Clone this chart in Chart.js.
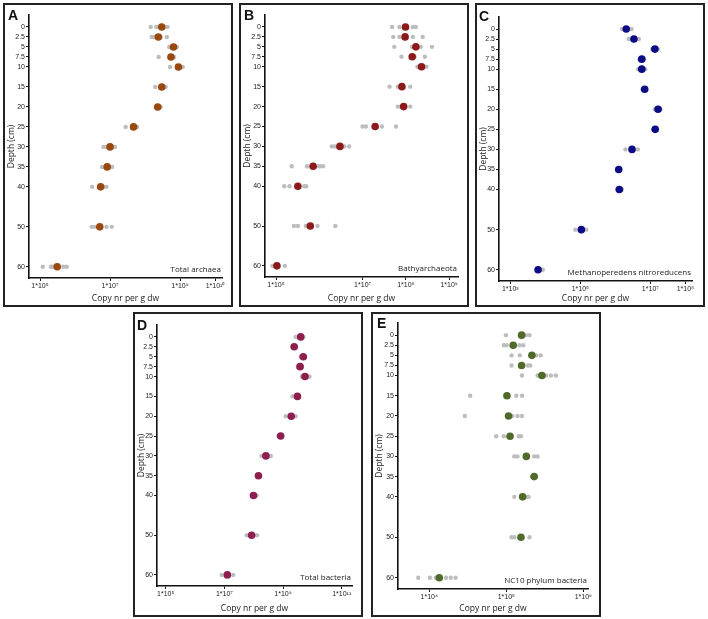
<!DOCTYPE html>
<html>
<head>
<meta charset="utf-8">
<script src="https://cdn.jsdelivr.net/npm/chart.js@4.4.0/dist/chart.umd.min.js"></script>
<style>
  html, body { margin: 0; padding: 0; background: #fff; }
  #page { position: relative; width: 708px; height: 619px; overflow: hidden; }
  .panel { position: absolute; border: 2px solid #222; box-sizing: border-box; background: #fff; }
  .panel canvas { position: absolute; left: 0; top: 0; }
  .tag { position: absolute; font: bold 14px Arial, "Liberation Sans", sans-serif; line-height: 1; color: #111; }
</style>
</head>
<body>
<div id="page"></div>
<script>
// ── DATA ─────────────────────────────────────────────────────────────────────
// profundidades (cm) — também usadas como rótulos do eixo y
const DEPTHS = [0, 2.5, 5, 7.5, 10, 15, 20, 25, 30, 35, 40, 50, 60]

// A — Total archaea
const archaeaMean = [3.0e8, 2.4e8, 6.5e8, 5.5e8, 9.0e8, 3.0e8, 2.3e8, 4.7e7, 1.0e7, 8.3e6, 5.4e6, 5.1e6, 3.1e5]
const archaeaReps = [
  [1.45e8, 2.1e8, 3.5e8, 4.4e8],
  [1.55e8, 1.8e8, 2.8e8, 4.2e8],
  [4.9e8, 5.6e8, 8.1e8],
  [2.45e8, 6.8e8],
  [5.2e8, 1.05e9, 1.2e9],
  [1.95e8, 3.3e8, 3.9e8],
  [2.1e8, 2.8e8],
  [2.8e7, 5.2e7, 6.0e7],
  [6.5e6, 7.9e6, 1.2e7, 1.38e7],
  [5.9e6, 7.1e6, 1.15e7],
  [3.1e6, 6.6e6, 7.9e6],
  [3.0e6, 3.6e6, 7.9e6, 1.12e7],
  [1.2e5, 2.05e5, 2.3e5, 4.6e5, 5.8e5]
]
const xTicksA = [1e5, 1e7, 1e9, 1e10]

// B — Bathyarchaeota
const bathyMean = [9.8e7, 9.6e7, 1.7e8, 1.4e8, 2.3e8, 8.1e7, 8.9e7, 1.95e7, 3.0e6, 7.2e5, 3.2e5, 6.2e5, 1.05e5]
const bathyReps = [
  [4.8e7, 7.1e7, 1.45e8, 1.7e8],
  [5.1e7, 7.1e7, 1.45e8, 2.45e8],
  [5.4e7, 1.38e8, 2.2e8, 4.0e8],
  [7.9e7, 1.6e8, 2.75e8],
  [1.85e8, 3.0e8],
  [4.2e7, 6.5e7, 1.26e8],
  [6.5e7, 7.6e7, 1.26e8],
  [1.0e7, 1.2e7, 2.8e7, 5.9e7],
  [1.95e6, 2.3e6, 3.8e6, 4.9e6],
  [2.3e5, 5.2e5, 9.5e5, 1.05e6, 1.23e6],
  [1.55e5, 2.05e5, 4.5e5, 5.0e5],
  [2.6e5, 3.2e5, 4.9e5, 9.1e5, 2.35e6],
  [8.3e4, 1.6e5]
]
const xTicksB = [1e5, 1e7, 1e8, 1e9]

// C — Methanoperedens nitroreducens
const methMean = [2.05e6, 3.4e6, 1.35e7, 5.7e6, 5.7e6, 6.9e6, 1.66e7, 1.38e7, 3.0e6, 1.25e6, 1.3e6, 1.07e5, 6.2e3]
const methReps = [
  [1.55e6, 2.9e6],
  [2.4e6, 4.7e6],
  [1.12e7, 1.66e7],
  [4.9e6, 6.6e6],
  [4.5e6, 7.2e6],
  [6.0e6],
  [1.35e7, 1.95e7],
  [1.2e7],
  [1.95e6, 4.4e6],
  [1.12e6],
  [1.15e6, 1.55e6],
  [7.2e4, 1.48e5],
  [8.5e3]
]
const xTicksC = [1e3, 1e5, 1e7, 1e8]

// D — Total bacteria
const bactMean = [4.0e9, 2.4e9, 4.9e9, 3.8e9, 5.6e9, 3.1e9, 1.9e9, 8.3e8, 2.6e8, 1.45e8, 9.8e7, 8.5e7, 1.26e7]
const bactReps = [
  [2.7e9, 4.9e9],
  [2.1e9],
  [4.0e9, 5.6e9],
  [3.2e9, 4.4e9],
  [4.4e9, 7.9e9],
  [2.1e9],
  [1.23e9, 2.7e9],
  [6.9e8],
  [1.85e8, 3.8e8],
  [1.38e8],
  [1.26e8],
  [5.8e7, 1.3e8],
  [8.1e6, 2.0e7]
]
const xTicksD = [1e5, 1e7, 1e9, 1e11]

// E — NC10 phylum bacteria
const nc10Mean = [1.58e5, 1.23e5, 2.15e5, 1.58e5, 2.9e5, 1.02e5, 1.07e5, 1.12e5, 1.82e5, 2.3e5, 1.63e5, 1.55e5, 1.35e4]
const nc10Reps = [
  [9.9e4, 1.8e5, 2.0e5],
  [9.3e4, 1.01e5, 1.48e5, 1.66e5],
  [1.17e5, 1.5e5, 2.45e5, 2.8e5],
  [1.17e5, 1.9e5, 2.05e5],
  [1.6e5, 2.55e5, 3.3e5, 3.8e5, 4.4e5],
  [3.4e4, 1.35e5, 1.6e5],
  [2.9e4, 1.2e5, 1.4e5, 1.6e5],
  [7.4e4, 9.3e4, 1.45e5, 1.55e5],
  [1.27e5, 1.4e5, 2.3e5, 2.55e5],
  [2.15e5, 2.45e5],
  [1.27e5, 1.9e5, 1.95e5],
  [1.17e5, 1.27e5, 2.0e5],
  [7.2e3, 1.02e4, 1.22e4, 1.65e4, 1.9e4, 2.2e4]
]
const xTicksE = [1e4, 1e5, 1e6]

// ── LAYOUT ───────────────────────────────────────────────────────────────────
// box = caixa externa (px da página); area = área do gráfico dentro da caixa (px internos)
const PANELS = [
  { tag: 'A', name: 'Total archaea', color: '#99480f', mean: archaeaMean, reps: archaeaReps, ticks: xTicksA,
    xMin: 4.85e4, xMax: 1.58e10, box: { x: 3, y: 3, w: 230, h: 304 }, area: { l: 24, t: 10, r: 217, b: 273 }, tagAt: [8, 8] },
  { tag: 'B', name: 'Bathyarchaeota', color: '#8c1a1a', mean: bathyMean, reps: bathyReps, ticks: xTicksB,
    xMin: 5.57e4, xMax: 1.6e9, box: { x: 239, y: 3, w: 230, h: 304 }, area: { l: 24, t: 10, r: 217, b: 272 }, tagAt: [244, 8] },
  { tag: 'C', name: 'Methanoperedens nitroreducens', color: '#0b0b86', mean: methMean, reps: methReps, ticks: xTicksC,
    xMin: 475, xMax: 1.55e8, box: { x: 475, y: 3, w: 230, h: 304 }, area: { l: 22, t: 12, r: 215, b: 276 }, tagAt: [479, 9] },
  { tag: 'D', name: 'Total bacteria', color: '#8e1e4d', mean: bactMean, reps: bactReps, ticks: xTicksD,
    xMin: 5.05e4, xMax: 2.24e11, box: { x: 133, y: 312, w: 230, h: 305 }, area: { l: 22, t: 11, r: 217, b: 272 }, tagAt: [137, 318] },
  { tag: 'E', name: 'NC10 phylum bacteria', color: '#4f6a2a', mean: nc10Mean, reps: nc10Reps, ticks: xTicksE,
    xMin: 3.93e3, xMax: 1.15e6, box: { x: 371, y: 312, w: 230, h: 305 }, area: { l: 25, t: 9, r: 215, b: 275 }, tagAt: [377, 316] }
]

const SUP = { '0': '⁰', '1': '¹', '2': '²', '3': '³', '4': '⁴', '5': '⁵', '6': '⁶', '7': '⁷', '8': '⁸', '9': '⁹' }
const fmtPow = v => '1*10' + String(Math.round(Math.log10(v))).split('').map(c => SUP[c]).join('')

// Nome do alvo no canto inferior direito da área do gráfico
const nameLabel = {
  id: 'nameLabel',
  afterDraw(chart, args, opts) {
    const { ctx, chartArea: { right, bottom } } = chart
    ctx.save()
    ctx.font = '8px "Open Sans", sans-serif'
    ctx.fillStyle = '#222'
    ctx.textAlign = 'right'; ctx.textBaseline = 'alphabetic'
    ctx.fillText(opts.text, right - 1, bottom - 6)
    ctx.restore()
  }
}

const page = document.getElementById('page')

PANELS.forEach(p => {
  const div = document.createElement('div')
  div.className = 'panel'
  Object.assign(div.style, { left: p.box.x + 'px', top: p.box.y + 'px', width: p.box.w + 'px', height: p.box.h + 'px' })
  const W = p.box.w - 4, H = p.box.h - 4
  const cv = document.createElement('canvas')
  cv.width = W; cv.height = H
  cv.style.width = W + 'px'; cv.style.height = H + 'px'
  div.appendChild(cv)
  page.appendChild(div)

  const tag = document.createElement('div')
  tag.className = 'tag'
  tag.textContent = p.tag
  tag.style.left = p.tagAt[0] + 'px'; tag.style.top = p.tagAt[1] + 'px'
  page.appendChild(tag)

  const repPts  = []
  p.reps.forEach((vals, i) => vals.forEach(v => repPts.push({ x: v, y: DEPTHS[i] })))
  const meanPts = p.mean.map((v, i) => ({ x: v, y: DEPTHS[i] }))

  const axisCol = '#111'
  const tickFont = { family: 'Arial, "Liberation Sans", sans-serif', size: 7 }
  const titleFont = { family: '"Open Sans", sans-serif', size: 8.5 }

  new Chart(cv, {
    type: 'scatter',
    plugins: [nameLabel],
    data: {
      // médias por cima das réplicas (order menor = desenhado por último)
      datasets: [
        { data: meanPts, backgroundColor: p.color, borderWidth: 0, pointRadius: 3.8, order: 0 },
        { data: repPts, backgroundColor: '#bdbdbd', borderWidth: 0, pointRadius: 2.2, order: 1 }
      ]
    },
    options: {
      responsive: false, animation: false, devicePixelRatio: 1,
      layout: { padding: { left: 0, top: p.area.t, right: W - p.area.r, bottom: 0 } },
      plugins: { legend: { display: false }, tooltip: { enabled: false }, nameLabel: { text: p.name } },
      scales: {
        x: {
          type: 'logarithmic', min: p.xMin, max: p.xMax, bounds: 'data',
          afterBuildTicks: s => { s.ticks = p.ticks.map(v => ({ value: v })) },
          afterFit: s => { s.height = H - p.area.b },
          border: { display: true, color: axisCol, width: 1.6 },
          grid: { display: true, drawOnChartArea: false, drawTicks: true, tickLength: 3, tickColor: axisCol, tickWidth: 1 },
          ticks: { autoSkip: false, maxRotation: 0, padding: 1, color: '#222', font: tickFont, callback: v => fmtPow(v) },
          title: { display: true, text: 'Copy nr per g dw', color: '#222', font: titleFont, padding: { top: 0, bottom: 1 } }
        },
        y: {
          type: 'linear', reverse: true, min: -3, max: 62.8, bounds: 'data',
          afterBuildTicks: s => { s.ticks = DEPTHS.map(v => ({ value: v })) },
          afterFit: s => { s.width = p.area.l },
          border: { display: true, color: axisCol, width: 1.6 },
          grid: { display: true, drawOnChartArea: false, drawTicks: true, tickLength: 3, tickColor: axisCol, tickWidth: 1 },
          ticks: { autoSkip: false, padding: 1, color: '#222', font: tickFont, callback: v => String(v) },
          title: { display: true, text: 'Depth (cm)', color: '#222', font: titleFont, padding: { top: 1, bottom: 0 } }
        }
      }
    }
  })
})
</script>
</body>
</html>
